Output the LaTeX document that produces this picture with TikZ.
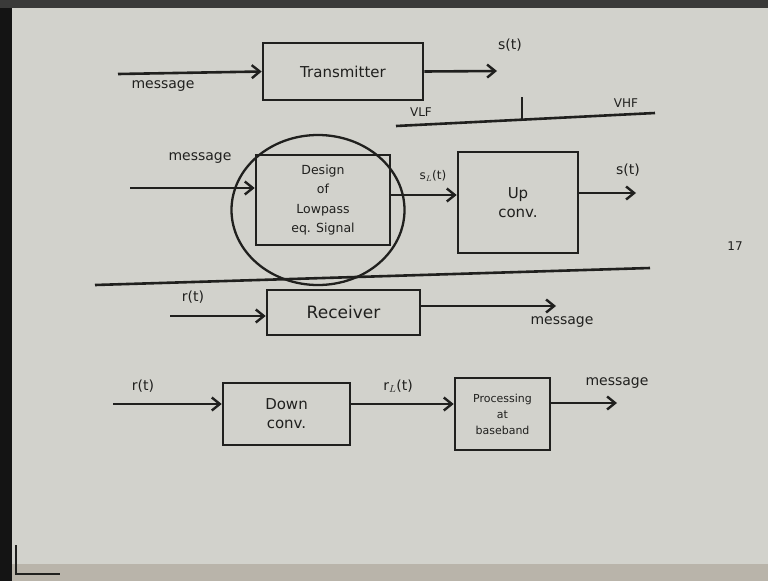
\documentclass[tikz,border=0pt]{standalone}
\usepackage{fontspec}
\setmainfont{DejaVu Sans}
\usetikzlibrary{arrows.meta,shapes.geometric}
\definecolor{paper}{RGB}{210,210,204}
\definecolor{ink}{RGB}{32,32,30}
\definecolor{edge}{RGB}{20,20,20}
\definecolor{band}{RGB}{185,180,170}
\tikzset{
  blk/.style={draw=ink,line width=2.6pt,rectangle,inner sep=2pt,align=center,text=ink,font=\fontsize{15}{19}\selectfont},
  arr/.style={draw=ink,line width=2.6pt,-{Straight Barb[length=8pt,width=13pt,line width=2.4pt]}},
  ln/.style={draw=ink,line width=2.6pt},
  lbl/.style={text=ink,inner sep=0pt,font=\fontsize{14}{16}\selectfont},
}
\begin{document}
\begin{tikzpicture}[x=1pt,y=-1pt]
\useasboundingbox (0,0) rectangle (768,581);
\fill[paper] (0,0) rectangle (768,581);
\fill[band] (0,564) rectangle (768,581);
\fill[edge] (0,0) rectangle (12,581);
\fill[edge!80!paper] (0,0) rectangle (768,8);
\draw[ink,line width=1.4pt] (16,545) -- (16,574) -- (60,574);

% ---- row 1: transmitter
\node[blk,minimum width=160pt,minimum height=57pt] (tx) at (343,71.5) {Transmitter};
\coordinate (in1) at (118,74);
\draw[arr] (in1) -- (tx.west);
\node[lbl] (m1) at (163,86) {message};
\coordinate (out1) at (497,71);
\draw[arr] (tx.east) -- (out1);
\node[lbl] (s1) at (510,45) {s(t)};
\coordinate (ax1) at (396,126);
\coordinate (ax2) at (655,113);
\draw[ln] (ax1) -- (ax2);
\coordinate (tk1) at (522,97);
\coordinate (tk2) at (522,119.5);
\draw[ln,line width=2pt] (tk1) -- (tk2);
\node[lbl,font=\fontsize{12}{14}\selectfont] (vlf) at (421,112) {VLF};
\node[lbl,font=\fontsize{12}{14}\selectfont] (vhf) at (626,103) {VHF};

% ---- row 2: design + up conversion
\node[blk,minimum width=134pt,minimum height=90pt,font=\fontsize{12.5}{19.5}\selectfont] (des) at (323,200) {Design\\of\\Lowpass\\eq. Signal};
\node[draw=ink,line width=2.3pt,ellipse,minimum width=173pt,minimum height=150pt,inner sep=0pt] (circ) at (318,210) {};
\coordinate (in2) at (130,188);
\draw[arr] (in2) -- (des.west |- in2);
\node[lbl] (m2) at (200,158) {message};
\node[blk,minimum width=120pt,minimum height=101pt] (up) at (518,202.5) {Up\\conv.};
\draw[arr] (des.east |- 0,195) -- (up.west |- 0,195);
\node[lbl,font=\fontsize{12}{14}\selectfont] (sl) at (433,176) {s$_L$(t)};
\coordinate (out2) at (636,193);
\draw[arr] (up.east |- out2) -- (out2);
\node[lbl] (s2) at (628,170) {s(t)};
\node[lbl,font=\fontsize{12}{14}\selectfont] (pg) at (735,246) {17};

% ---- divider
\coordinate (d1) at (95,285);
\coordinate (d2) at (650,268);
\draw[ln] (d1) -- (d2);

% ---- row 3: receiver
\node[blk,minimum width=153pt,minimum height=45pt,font=\fontsize{17}{19}\selectfont] (rx) at (343.5,312.5) {Receiver};
\coordinate (in3) at (170,316);
\draw[arr] (in3) -- (rx.west |- in3);
\node[lbl] (r1) at (193,297) {r(t)};
\coordinate (out3) at (556,306);
\draw[arr] (rx.east |- out3) -- (out3);
\node[lbl] (m3) at (562,322) {message};

% ---- row 4: down conversion + baseband processing
\node[blk,minimum width=127pt,minimum height=62pt] (dn) at (286.5,414) {Down\\conv.};
\coordinate (in4) at (113,404);
\draw[arr] (in4) -- (dn.west |- in4);
\node[lbl] (r2) at (143,386) {r(t)};
\node[blk,minimum width=95pt,minimum height=72pt,font=\fontsize{11}{16}\selectfont] (pr) at (502.5,414) {Processing\\at\\baseband};
\draw[arr] (dn.east |- 0,404) -- (pr.west |- 0,404);
\node[lbl] (rl) at (398,386) {r$_L$(t)};
\coordinate (out4) at (617,403);
\draw[arr] (pr.east |- out4) -- (out4);
\node[lbl] (m4) at (617,383) {message};
\end{tikzpicture}
\end{document}
